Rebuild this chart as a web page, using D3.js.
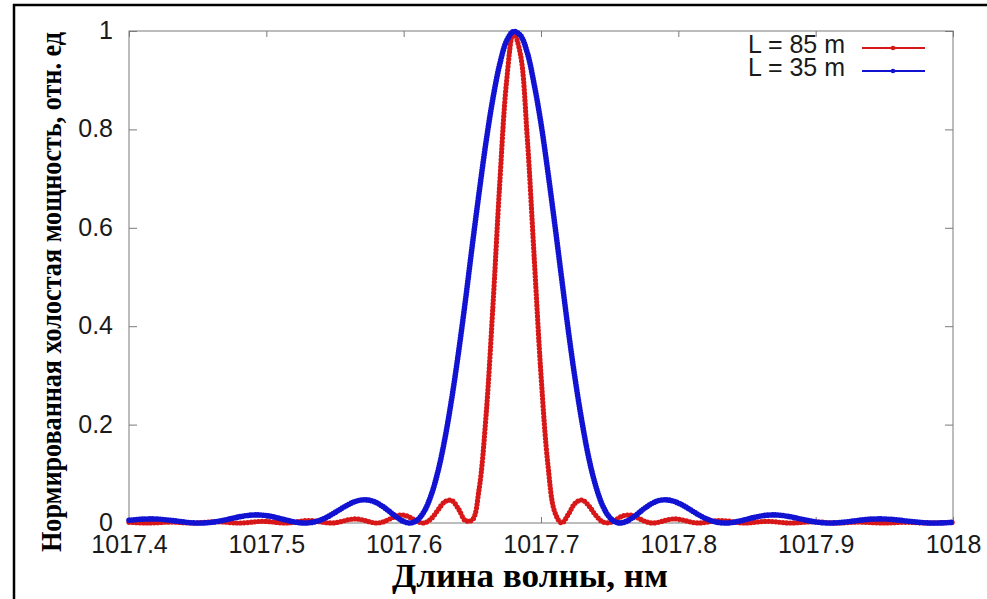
<!DOCTYPE html>
<html>
<head>
<meta charset="utf-8">
<script src="https://cdn.jsdelivr.net/npm/d3@7"></script>
<style>
  body { margin: 0; background: #fff; }
  svg { display: block; }
</style>
</head>
<body>
<div id="chart"></div>
<script>
// длина волны, нм (шаг 0.005)
const wavelength = [
  1017.400, 1017.405, 1017.410, 1017.415, 1017.420, 1017.425, 1017.430, 1017.435, 1017.440, 1017.445,
  1017.450, 1017.455, 1017.460, 1017.465, 1017.470, 1017.475, 1017.480, 1017.485, 1017.490, 1017.495,
  1017.500, 1017.505, 1017.510, 1017.515, 1017.520, 1017.525, 1017.530, 1017.535, 1017.540, 1017.545,
  1017.550, 1017.555, 1017.560, 1017.565, 1017.570, 1017.575, 1017.580, 1017.585, 1017.590, 1017.595,
  1017.600, 1017.605, 1017.610, 1017.615, 1017.620, 1017.625, 1017.630, 1017.635, 1017.640, 1017.645,
  1017.650, 1017.655, 1017.660, 1017.665, 1017.670, 1017.675, 1017.680, 1017.685, 1017.690, 1017.695,
  1017.700, 1017.705, 1017.710, 1017.715, 1017.720, 1017.725, 1017.730, 1017.735, 1017.740, 1017.745,
  1017.750, 1017.755, 1017.760, 1017.765, 1017.770, 1017.775, 1017.780, 1017.785, 1017.790, 1017.795,
  1017.800, 1017.805, 1017.810, 1017.815, 1017.820, 1017.825, 1017.830, 1017.835, 1017.840, 1017.845,
  1017.850, 1017.855, 1017.860, 1017.865, 1017.870, 1017.875, 1017.880, 1017.885, 1017.890, 1017.895,
  1017.900, 1017.905, 1017.910, 1017.915, 1017.920, 1017.925, 1017.930, 1017.935, 1017.940, 1017.945,
  1017.950, 1017.955, 1017.960, 1017.965, 1017.970, 1017.975, 1017.980, 1017.985, 1017.990, 1017.995,
  1018.000
];
// L = 85 m
const power85 = [
  0.0013, 0.0007, 0.0001, 0.0001, 0.0006, 0.0014, 0.0018, 0.0015, 0.0006, 0.0000,
  0.0002, 0.0011, 0.0021, 0.0024, 0.0017, 0.0005, 0.0000, 0.0006, 0.0020, 0.0032,
  0.0032, 0.0019, 0.0004, 0.0001, 0.0014, 0.0036, 0.0050, 0.0043, 0.0021, 0.0002,
  0.0005, 0.0033, 0.0068, 0.0083, 0.0064, 0.0025, 0.0000, 0.0021, 0.0083, 0.0147,
  0.0162, 0.0110, 0.0030, 0.0002, 0.0087, 0.0266, 0.0435, 0.0456, 0.0283, 0.0048,
  0.0064, 0.0704, 0.2186, 0.441, 0.692, 0.899, 0.997, 0.953, 0.783, 0.542,
  0.301, 0.1196, 0.0226, 0.0002, 0.0181, 0.0407, 0.0467, 0.0344, 0.0152, 0.0022,
  0.0008, 0.0077, 0.0148, 0.0161, 0.0111, 0.0042, 0.0002, 0.0011, 0.0049, 0.0080,
  0.0078, 0.0048, 0.0014, 0.0000, 0.0012, 0.0036, 0.0050, 0.0044, 0.0023, 0.0004,
  0.0001, 0.0012, 0.0027, 0.0034, 0.0026, 0.0011, 0.0001, 0.0002, 0.0012, 0.0022,
  0.0023, 0.0016, 0.0005, 0.0000, 0.0003, 0.0012, 0.0018, 0.0016, 0.0009, 0.0002,
  0.0000, 0.0004, 0.0011, 0.0014, 0.0012, 0.0005, 0.0001, 0.0001, 0.0005, 0.0010,
  0.0011
];
// L = 35 m
const power35 = [
  0.0055, 0.0069, 0.0079, 0.0083, 0.0081, 0.0071, 0.0056, 0.0039, 0.0021, 0.0007,
  0.0000, 0.0002, 0.0014, 0.0035, 0.0063, 0.0094, 0.0125, 0.0148, 0.0163, 0.0164,
  0.0151, 0.0126, 0.0092, 0.0056, 0.0024, 0.0004, 0.0002, 0.0023, 0.0067, 0.0132,
  0.0214, 0.0299, 0.0379, 0.0440, 0.0470, 0.0463, 0.0415, 0.0332, 0.0226, 0.0116,
  0.0031, 0.0001, 0.0060, 0.0238, 0.0565, 0.105, 0.171, 0.253, 0.348, 0.453,
  0.565, 0.673, 0.775, 0.863, 0.933, 0.980, 0.999, 0.991, 0.956, 0.892,
  0.812, 0.714, 0.608, 0.498, 0.389, 0.290, 0.203, 0.1295, 0.0740, 0.0346,
  0.0114, 0.0011, 0.0010, 0.0077, 0.0179, 0.0291, 0.0385, 0.0448, 0.0472, 0.0456,
  0.0406, 0.0333, 0.0248, 0.0163, 0.0091, 0.0037, 0.0007, 0.0000, 0.0014, 0.0042,
  0.0077, 0.0113, 0.0142, 0.0160, 0.0165, 0.0155, 0.0135, 0.0107, 0.0075, 0.0046,
  0.0022, 0.0006, 0.0000, 0.0004, 0.0015, 0.0031, 0.0049, 0.0066, 0.0078, 0.0083,
  0.0082, 0.0074, 0.0061, 0.0045, 0.0029, 0.0015, 0.0005, 0.0000, 0.0001, 0.0006,
  0.0015
];
const xTicks = [1017.4, 1017.5, 1017.6, 1017.7, 1017.8, 1017.9, 1018];
const xTickLabels = ['1017.4', '1017.5', '1017.6', '1017.7', '1017.8', '1017.9', '1018'];
const yTicks = [0, 0.2, 0.4, 0.6, 0.8, 1];
const yTickLabels = ['0', '0.2', '0.4', '0.6', '0.8', '1'];
const seriesNames = ['L = 85 m', 'L = 35 m'];
const seriesColors = ['#d81818', '#1212d2'];

// размеры ------------------------------------------------------------------
const width = 987, height = 599;
const margin = { top: 31, right: 34, bottom: 76, left: 129 };
const sansFont = '"Liberation Sans", Arial, sans-serif';
const serifFont = '"Liberation Serif", "Times New Roman", serif';

const svg = d3.select('#chart').append('svg')
  .attr('width', width)
  .attr('height', height);

// внешняя рамка
svg.append('rect')
  .attr('x', 14).attr('y', 5)
  .attr('width', 1000).attr('height', 1000)
  .attr('fill', 'none')
  .attr('stroke', '#000')
  .attr('stroke-width', 2.5);

const xScale = d3.scaleLinear()
  .domain([1017.4, 1018])
  .range([margin.left, width - margin.right]);
const yScale = d3.scaleLinear()
  .domain([0, 1])
  .range([height - margin.bottom, margin.top]);

const x0 = xScale.range()[0], x1 = xScale.range()[1];
const y0 = yScale.range()[0], y1 = yScale.range()[1];

// оси ----------------------------------------------------------------------
const styleAxis = g => {
  g.select('.domain').remove();
  g.selectAll('.tick line').attr('stroke', '#7a7a7a');
  g.selectAll('.tick text')
    .attr('fill', '#1a1a1a')
    .attr('font-family', sansFont)
    .attr('font-size', '25px');
};

svg.append('g')
  .attr('transform', 'translate(0,' + y0 + ')')
  .call(d3.axisBottom(xScale).tickValues(xTicks).tickSize(-6)
    .tickFormat((d, i) => xTickLabels[i]))
  .call(styleAxis)
  .call(g => g.selectAll('.tick text').attr('y', 30).attr('dy', 0));

svg.append('g')
  .attr('transform', 'translate(0,' + y1 + ')')
  .call(d3.axisTop(xScale).tickValues(xTicks).tickSize(-6).tickFormat(''))
  .call(styleAxis);

svg.append('g')
  .attr('transform', 'translate(' + x0 + ',0)')
  .call(d3.axisLeft(yScale).tickValues(yTicks).tickSize(-8)
    .tickFormat((d, i) => yTickLabels[i]))
  .call(styleAxis)
  .call(g => g.selectAll('.tick text').attr('x', -16).attr('dy', '0.3em'));

svg.append('g')
  .attr('transform', 'translate(' + x1 + ',0)')
  .call(d3.axisRight(yScale).tickValues(yTicks).tickSize(-8).tickFormat(''))
  .call(styleAxis);

// рамка графика
svg.append('rect')
  .attr('x', x0).attr('y', y1)
  .attr('width', x1 - x0).attr('height', y0 - y1)
  .attr('fill', 'none')
  .attr('stroke', '#7a7a7a')
  .attr('stroke-width', 1);

// кривые -------------------------------------------------------------------
const line = d3.line()
  .x(d => xScale(d[0]))
  .y(d => yScale(d[1]))
  .curve(d3.curveCatmullRom.alpha(0.5));

const series = [power85, power35].map(vals => wavelength.map((w, i) => [w, vals[i]]));
const markerGap = [3.6, 2.6];
const markerSize = [5.2, 5.6];

series.forEach((data, s) => {
  const g = svg.append('g');
  g.append('path')
    .datum(data)
    .attr('d', line)
    .attr('fill', 'none')
    .attr('stroke', seriesColors[s])
    .attr('stroke-width', 1.8);
  // точки-маркеры вдоль линии
  g.append('path')
    .datum(data)
    .attr('d', line)
    .attr('fill', 'none')
    .attr('stroke', seriesColors[s])
    .attr('stroke-width', markerSize[s])
    .attr('stroke-linecap', 'round')
    .attr('stroke-dasharray', '0 ' + markerGap[s]);
});

// легенда ------------------------------------------------------------------
const legend = svg.append('g');
seriesNames.forEach((name, i) => {
  const ly = 48 + i * 23;
  legend.append('text')
    .attr('x', 845).attr('y', ly + 5)
    .attr('text-anchor', 'end')
    .attr('font-family', sansFont)
    .attr('font-size', '25px')
    .attr('fill', '#1a1a1a')
    .text(name);
  legend.append('line')
    .attr('x1', 862).attr('x2', 925)
    .attr('y1', ly).attr('y2', ly)
    .attr('stroke', seriesColors[i])
    .attr('stroke-width', 1.8);
  legend.append('circle')
    .attr('cx', 893).attr('cy', ly).attr('r', 2.3)
    .attr('fill', seriesColors[i]);
});

// подписи осей -------------------------------------------------------------
svg.append('text')
  .attr('transform', 'translate(61,292) rotate(-90) scale(1,1.15)')
  .attr('text-anchor', 'middle')
  .attr('font-family', serifFont)
  .attr('font-weight', 'bold')
  .attr('font-size', '26px')
  .attr('textLength', 520)
  .attr('lengthAdjust', 'spacingAndGlyphs')
  .attr('fill', '#000')
  .text('Нормированная холостая мощность, отн. ед');

svg.append('text')
  .attr('x', 530).attr('y', 587)
  .attr('text-anchor', 'middle')
  .attr('font-family', serifFont)
  .attr('font-weight', 'bold')
  .attr('font-size', '34px')
  .attr('textLength', 276)
  .attr('lengthAdjust', 'spacingAndGlyphs')
  .attr('fill', '#000')
  .text('Длина волны, нм');
</script>
</body>
</html>
